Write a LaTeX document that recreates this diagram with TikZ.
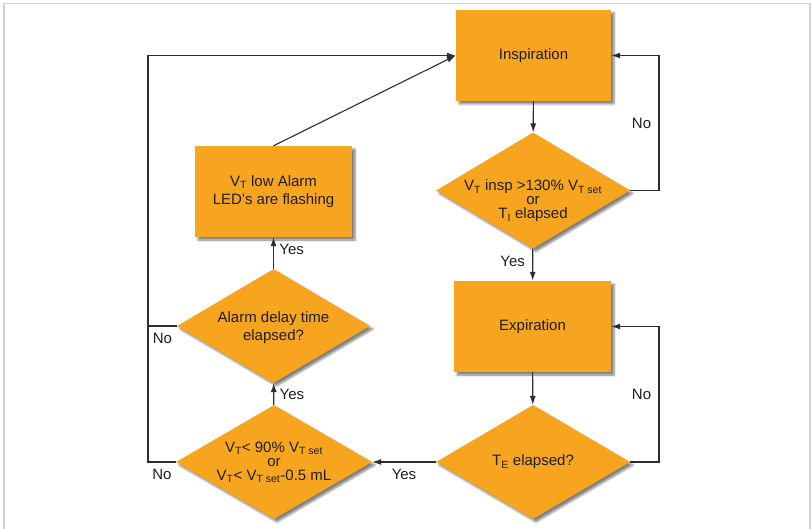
\documentclass[tikz,border=0pt]{standalone}
\usepackage{fontspec}
\setmainfont{Liberation Sans}
\usetikzlibrary{shapes.geometric,arrows.meta,shadows.blur}
\definecolor{flowor}{RGB}{247,165,30}
\definecolor{flowtxt}{RGB}{30,30,30}
\definecolor{flowln}{RGB}{45,45,45}

\begin{document}
\begin{tikzpicture}[x=1pt,y=-1pt]
            \useasboundingbox (0,0) rectangle (811,529);
            \draw[gray!35, line width=1.3pt] (4,529) -- (4,3.5) -- (810,3.5) -- (810,529);
            \begin{scope}[every node/.style={fill=flowor, inner sep=0pt, text=flowtxt, align=center,
                    font=\fontsize{15}{18}\selectfont,
                    blur shadow={shadow blur steps=6, shadow xshift=3pt, shadow yshift=-3pt, shadow opacity=50}}]
                \node[rectangle, minimum width=155pt, minimum height=91pt] (insp) at (533.5,55.5) {Inspiration};
                \node[diamond, minimum width=194pt, minimum height=116pt] (chk1) at (533,190.5) {};
                \node[rectangle, minimum width=157pt, minimum height=91pt] (exp) at (532.5,326.5) {Expiration};
                \node[diamond, minimum width=194pt, minimum height=114pt] (chk2) at (533,462) {};

                \node[rectangle, minimum width=157pt, minimum height=91pt] (led) at (273.5,191.5) {V\textsubscript{T} low Alarm\\LED's are flashing};
                \node[diamond, minimum width=193pt, minimum height=114pt] (delay) at (273.5,326) {};
                \node[diamond, minimum width=196pt, minimum height=114pt] (chk3) at (274,462) {};
            \end{scope}
            \begin{scope}[every node/.style={text=flowtxt, align=center, inner sep=0pt}]
                \node[font=\fontsize{15}{14}\selectfont] (chk1txt) at (533,201) {V\textsubscript{T} insp >130\% V\textsubscript{T set}\\or\\T\textsubscript{I} elapsed};
                \node[font=\fontsize{15}{18}\selectfont] (chk2txt) at (533,462) {T\textsubscript{E} elapsed?};
                \node[font=\fontsize{15}{18}\selectfont] (delaytxt) at (273.5,328) {Alarm delay time\\elapsed?};
                \node[font=\fontsize{15}{14}\selectfont] (chk3txt) at (274,462) {V\textsubscript{T}< 90\% V\textsubscript{T set}\\or\\V\textsubscript{T}< V\textsubscript{T set}-0.5 mL};
            \end{scope}
            \coordinate (r1) at (659,190.5);
            \coordinate (r2) at (659,462);
            \coordinate (l1) at (148,462);
            \coordinate (l2) at (148,326);
            \begin{scope}[every edge/.style={draw=flowln, line width=1.1pt},
                    every node/.style={text=flowtxt, font=\fontsize{15}{18}\selectfont}]
                \path [-{Latex[length=9pt,width=6pt]}] (insp) edge node {} (chk1);
                \path [-{Latex[length=9pt,width=6pt]}] (chk1) edge node[left, xshift=-4pt, pos=.4] (yes1) {Yes} (exp);
                \path [-{Latex[length=9pt,width=6pt]}] (exp) edge node {} (chk2);
                \path [-{Latex[length=9pt,width=6pt]}] (chk2) edge node[below, yshift=-3pt] (yes2) {Yes} (chk3);
                \path [-{Latex[length=9pt,width=6pt]}] (chk3) edge node[right, xshift=2pt] (yes3) {Yes} (delay);
                \path [-{Latex[length=9pt,width=6pt]}] (delay) edge node[right, xshift=2pt, pos=.6] (yes4) {Yes} (led);
                \path [-{Latex[length=9pt,width=6pt]}] (led.north) edge node {} (insp.west);
            \end{scope}
            \begin{scope}[every path/.style={draw=flowln, line width=1.1pt},
                    every node/.style={text=flowtxt, font=\fontsize{15}{18}\selectfont}]
                \draw [-{Latex[length=9pt,width=6pt]}] (chk1.east) -- (r1) |- node[pos=.25, left, xshift=-4pt] (no1) {No} (insp.east);
                \draw [-{Latex[length=9pt,width=6pt]}] (chk2.east) -- (r2) |- node[pos=.25, left, xshift=-4pt] (no2) {No} (exp.east);
                \draw [-{Latex[length=9pt,width=6pt]}] (chk3.west) -- node[below, yshift=-3pt] (no3) {No} (l1) |- (insp.west);
                \draw (delay.west) -- node[below, yshift=-3pt] (no4) {No} (l2);
            \end{scope}
        \end{tikzpicture}
\end{document}
